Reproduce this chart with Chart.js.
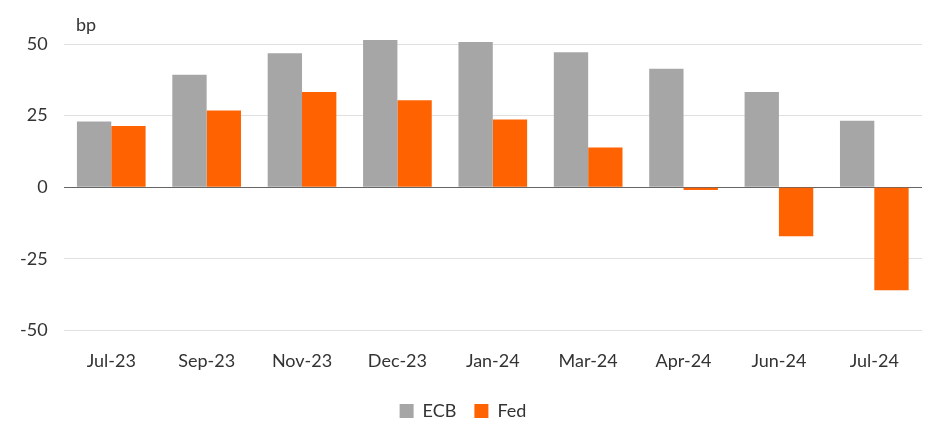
<!DOCTYPE html>
<html>
<head>
<meta charset="utf-8">
<script src="https://cdn.jsdelivr.net/npm/chart.js@4/dist/chart.umd.min.js"></script>
<style>
  html, body { margin: 0; padding: 0; background: #fff; }
  #wrap { width: 952px; height: 438px; position: relative; }
</style>
</head>
<body>
<div id="wrap"><canvas id="chart"></canvas></div>
<script>
const categories = ["Jul-23", "Sep-23", "Nov-23", "Dec-23", "Jan-24", "Mar-24", "Apr-24", "Jun-24", "Jul-24"];
const ecbValues = [22.9, 39.3, 46.8, 51.4, 50.7, 47.1, 41.4, 33.2, 23.2];
const fedValues = [21.4, 26.8, 33.2, 30.4, 23.6, 13.9, -1, -17.1, -36];
const yTicks = [-50, -25, 0, 25, 50];

// "bp" unit label above the y axis
const unitLabel = {
  id: "unitLabel",
  afterDraw(chart) {
    const ctx = chart.ctx;
    ctx.save();
    ctx.font = "18px Lato";
    ctx.fillStyle = "#333";
    ctx.textBaseline = "middle";
    ctx.fillText("bp", 76, 25);
    ctx.restore();
  }
};

new Chart(document.getElementById("chart"), {
  type: "bar",
  data: {
    labels: categories,
    datasets: [
      { label: "ECB", data: ecbValues, backgroundColor: "#a6a6a6", categoryPercentage: 0.72, barPercentage: 1 },
      { label: "Fed", data: fedValues, backgroundColor: "#ff6200", categoryPercentage: 0.72, barPercentage: 1 }
    ]
  },
  options: {
    responsive: true,
    maintainAspectRatio: false,
    animation: false,
    layout: { padding: { top: 44, right: 30, left: 4, bottom: 8 } },
    plugins: {
      legend: {
        position: "bottom",
        labels: { color: "#333", font: { size: 18, family: "Lato" }, boxWidth: 14, boxHeight: 14, padding: 18 }
      },
      tooltip: { enabled: false }
    },
    scales: {
      x: {
        grid: { display: false },
        border: { display: false },
        ticks: { color: "#333", font: { size: 18, family: "Lato" }, padding: 12 }
      },
      y: {
        min: -50, max: 50,
        afterBuildTicks: axis => { axis.ticks = yTicks.map(v => ({ value: v })); },
        grid: {
          color: c => c.tick && c.tick.value === 0 ? "#666" : "#e0e0e0",
          drawTicks: false
        },
        border: { display: false },
        ticks: { color: "#333", font: { size: 18, family: "Lato" }, padding: 16 }
      }
    },
    datasets: { bar: { clip: false } }
  },
  plugins: [unitLabel]
});
</script>
</body>
</html>
